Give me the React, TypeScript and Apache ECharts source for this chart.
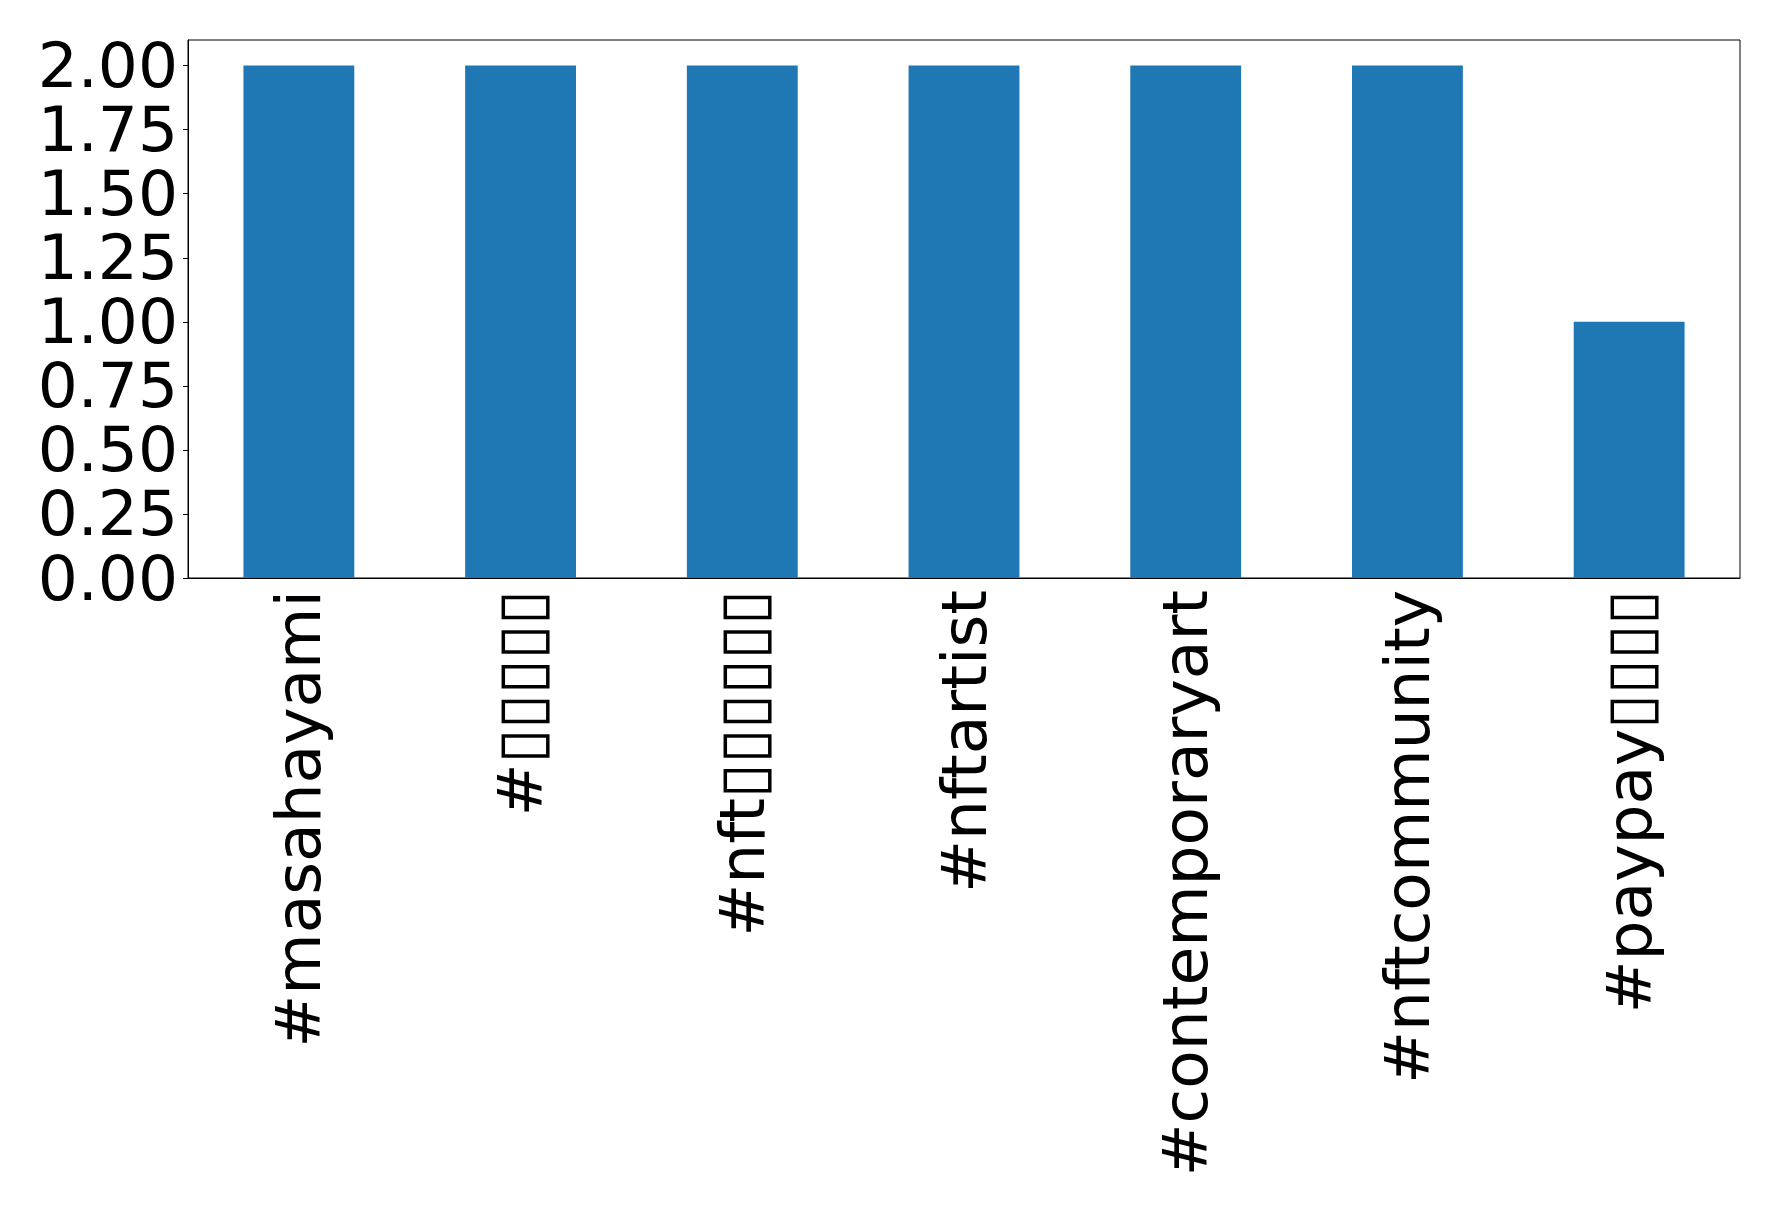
import React, { useEffect, useRef } from "react";
import * as echarts from "echarts";

const categories = [
  "#masahayami",
  "#▯▯▯▯▯",
  "#nft▯▯▯▯▯▯",
  "#nftartist",
  "#contemporaryart",
  "#nftcommunity",
  "#paypay▯▯▯▯",
];
const counts = [2, 2, 2, 2, 2, 2, 1];
const yTicks = [0, 0.25, 0.5, 0.75, 1.0, 1.25, 1.5, 1.75, 2.0];
const yMax = 2.1;

export default function App() {
  const ref = useRef<HTMLDivElement>(null);
  useEffect(() => {
    if (!ref.current) return;
    const chart = echarts.init(ref.current, null, { renderer: "svg" });
    const font = "DejaVu Sans";
    chart.setOption({
      animation: false,
      backgroundColor: "#ffffff",
      grid: {
        left: 188,
        right: 38,
        top: 40,
        bottom: 632,
        show: true,
        borderColor: "#000000",
        borderWidth: 1,
        backgroundColor: "transparent",
      },
      xAxis: {
        type: "category",
        data: categories,
        axisLine: { lineStyle: { color: "#000000", width: 1 } },
        axisTick: { alignWithLabel: true, length: 5, lineStyle: { color: "#000000" } },
        axisLabel: {
          rotate: 90,
          interval: 0,
          margin: 12,
          fontSize: 63,
          lineHeight: 56,
          fontFamily: font,
          color: "#000000",
        },
        splitLine: { show: false },
      },
      yAxis: {
        type: "value",
        min: 0,
        max: yMax,
        interval: 0.25,
        axisLine: { show: true, lineStyle: { color: "#000000", width: 1 } },
        axisTick: { show: true, length: 5, lineStyle: { color: "#000000" }, customValues: yTicks },
        axisLabel: {
          margin: 10,
          fontSize: 63,
          lineHeight: 52,
          fontFamily: font,
          color: "#000000",
          customValues: yTicks,
          formatter: (v: number) => v.toFixed(2),
        },
        splitLine: { show: false },
      },
      series: [
        {
          type: "bar",
          data: counts,
          barWidth: "50%",
          itemStyle: { color: "#1f77b4" },
        },
      ],
    });
    return () => chart.dispose();
  }, []);
  return (
    <div
      ref={ref}
      style={{ position: "absolute", left: 0, top: 0, width: 1778, height: 1210, background: "#fff" }}
    />
  );
}
